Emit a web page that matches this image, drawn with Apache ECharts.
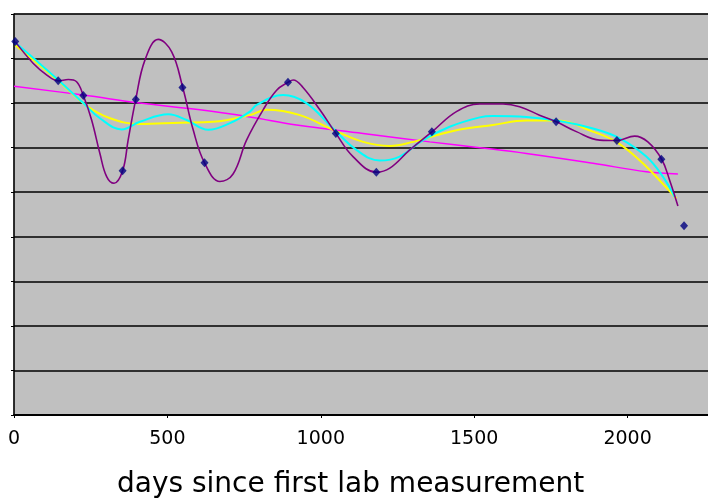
<!DOCTYPE html>
<html>
<head>
    <meta charset="utf-8"/>
    <title>days since first lab measurement</title>
    <style>
        html, body { margin: 0; padding: 0; background: #fff; }
        #main { width: 708px; height: 502px; }
    </style>
</head>
<body>
<div id="main"></div>
<script src="https://cdn.jsdelivr.net/npm/echarts@6/dist/echarts.min.js"></script>
<script>
    // measured points (days, value)
    var pointDays = [4, 144, 226, 354, 397, 549, 621, 893, 1049, 1181, 1362, 1767, 1965, 2110, 2184];
    var pointVals = [83.8, 75.0, 71.7, 54.8, 70.8, 73.5, 56.6, 74.7, 63.2, 54.5, 63.6, 65.8, 61.6, 57.4, 42.5];

    // purple curve
    var purpleDays = [4, 63, 107, 144, 177, 204, 226, 253, 280, 302, 326, 354, 372, 397, 427, 470, 514, 550, 584, 621,
        671, 714, 758, 812, 856, 894, 910, 942, 997, 1049, 1105, 1181, 1225, 1290, 1363, 1442, 1518, 1594, 1648, 1713,
        1768, 1833, 1909, 1965, 2023, 2066, 2111, 2137, 2164];
    var purpleVals = [83.8, 78.9, 76.3, 75.0, 75.3, 74.8, 71.7, 66.2, 58.7, 53.5, 52.0, 54.8, 61.7, 70.9, 79.7, 84.3, 81.5, 73.5, 64.0, 56.6,
        52.4, 54.1, 61.7, 68.5, 72.9, 74.7, 75.2, 73.5, 68.5, 63.2, 58.0, 54.5, 55.4, 59.5, 63.6, 68.1, 69.8, 69.8, 69.2, 67.3,
        65.8, 63.6, 61.7, 61.6, 62.6, 61.3, 57.4, 52.7, 46.9];

    // cyan curve
    var cyanDays = [4, 63, 144, 226, 280, 351, 410, 503, 563, 633, 704, 769, 791, 877, 953, 1040, 1116, 1192, 1257,
        1333, 1420, 1518, 1561, 1670, 1768, 1887, 1974, 2061, 2115, 2153];
    var cyanVals = [83.6, 80.1, 75.2, 70.0, 66.6, 64.1, 65.8, 67.5, 66.2, 64.0, 65.5, 68.1, 69.6, 71.8, 70.0, 64.3, 59.5, 57.1, 58.0,
        61.7, 64.7, 66.8, 67.1, 66.9, 66.1, 64.3, 62.1, 58.0, 53.5, 49.0];

    // yellow curve
    var yellowDays = [4, 63, 144, 237, 313, 410, 541, 649, 769, 823, 932, 1040, 1138, 1225, 1301, 1377, 1453, 1561,
        1670, 1768, 1887, 1963, 2039, 2104, 2159];
    var yellowVals = [83.0, 79.7, 75.0, 69.4, 66.6, 65.3, 65.6, 65.8, 67.3, 68.5, 67.3, 64.0, 61.3, 60.4, 61.3, 62.8, 64.1, 65.1,
        66.1, 66.1, 63.6, 61.3, 57.2, 52.7, 48.6];

    // magenta curve
    var magentaDays = [0, 226, 410, 606, 769, 921, 1138, 1355, 1518, 1670, 1887, 2061, 2164];
    var magentaVals = [73.8, 71.8, 70.0, 68.5, 66.9, 65.1, 63.2, 61.3, 60.0, 58.7, 56.5, 54.6, 54.1];

    var xTicks = [0, 500, 1000, 1500, 2000, 2500];

    function zip(xs, ys) {
        var out = [];
        for (let i = 0; i < xs.length; i++) {
            out.push([xs[i], ys[i]]);
        }
        return out;
    }

    function curve(name, days, vals, color, width) {
        return {
            name: name,
            type: 'line',
            smooth: 0.4,
            showSymbol: false,
            symbol: 'none',
            silent: true,
            lineStyle: { color: color, width: width },
            data: zip(days, vals)
        };
    }

    var option = {
        backgroundColor: '#fff',
        animation: false,
        grid: {
            left: 14,
            top: 14,
            width: 767,
            bottom: 87,
            outerBoundsMode: 'none',
            containLabel: false,
            show: true,
            backgroundColor: '#c0c0c0',
            borderColor: '#808080',
            borderWidth: 1
        },
        xAxis: {
            type: 'value',
            min: xTicks[0],
            max: xTicks[xTicks.length - 1],
            interval: 500,
            axisLine: { show: true, onZero: false, lineStyle: { color: '#000', width: 2 } },
            axisTick: { show: true, length: 3, lineStyle: { color: '#000' } },
            axisLabel: {
                color: '#000',
                fontFamily: 'DejaVu Sans',
                fontSize: 19,
                margin: 15,
                formatter: function (v) { return String(v); }
            },
            splitLine: { show: false }
        },
        yAxis: {
            type: 'value',
            min: 0,
            max: 90,
            interval: 10,
            axisLine: { show: true, lineStyle: { color: '#000', width: 1.5 } },
            axisTick: { show: true, length: 3, lineStyle: { color: '#000' } },
            axisLabel: { show: false },
            splitLine: { show: true, lineStyle: { color: '#000', width: 1.5 } }
        },
        graphic: [{
            type: 'text',
            left: 117,
            top: 471,
            style: {
                text: 'days since first lab measurement',
                fill: '#000',
                font: '28px "DejaVu Sans"'
            }
        }],
        series: [
            curve('magenta', magentaDays, magentaVals, '#ff00ff', 1.5),
            curve('yellow', yellowDays, yellowVals, '#ffff00', 2),
            curve('cyan', cyanDays, cyanVals, '#00ffff', 2),
            curve('purple', purpleDays, purpleVals, '#800080', 1.6),
            {
                name: 'measurements',
                type: 'scatter',
                symbol: 'diamond',
                symbolSize: [8, 9],
                z: 5,
                itemStyle: { color: '#000080' },
                data: zip(pointDays, pointVals)
            }
        ]
    };

    var myChart = echarts.init(document.getElementById('main'));
    myChart.setOption(option);
</script>
</body>
</html>
